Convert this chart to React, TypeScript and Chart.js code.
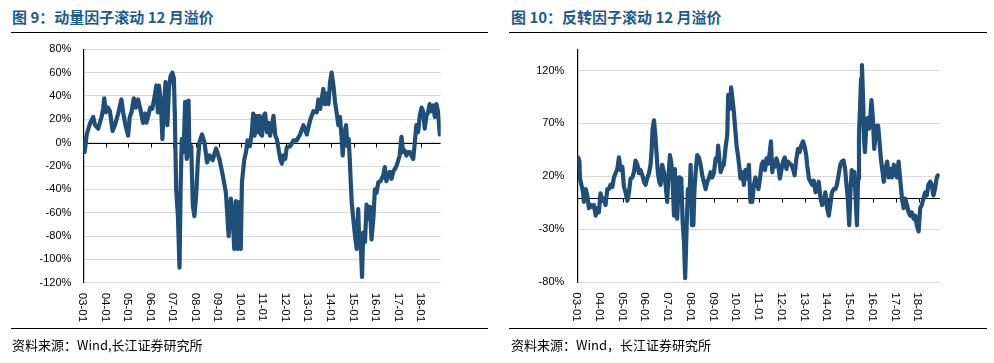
import React, { useEffect, useRef } from "react";
import { Chart, registerables } from "chart.js";

Chart.register(...registerables);

// ---------- Data: momentum factor (图 9) ----------
const momYears: number[] = [
  2003.00, 2003.06, 2003.15, 2003.29, 2003.44, 2003.52, 2003.66, 2003.81, 2003.88, 2003.93,
  2004.00, 2004.10, 2004.18, 2004.30, 2004.40, 2004.55, 2004.69, 2004.77, 2004.87, 2004.99,
  2005.06, 2005.14, 2005.24, 2005.33, 2005.43, 2005.53, 2005.65, 2005.74, 2005.80, 2005.87,
  2005.97, 2006.06, 2006.17, 2006.24, 2006.31, 2006.36, 2006.45, 2006.51, 2006.56, 2006.65,
  2006.73, 2006.80, 2006.87, 2006.95, 2007.02, 2007.06, 2007.12, 2007.20, 2007.27, 2007.32,
  2007.37, 2007.45, 2007.52, 2007.59, 2007.67, 2007.71, 2007.79, 2007.86, 2007.93, 2008.01,
  2008.08, 2008.15, 2008.27, 2008.38, 2008.49, 2008.60, 2008.74, 2008.89, 2009.04, 2009.19,
  2009.33, 2009.45, 2009.55, 2009.63, 2009.70, 2009.77, 2009.85, 2009.92, 2009.99, 2010.04,
  2010.14, 2010.22, 2010.29, 2010.39, 2010.48, 2010.54, 2010.60, 2010.66, 2010.73, 2010.81,
  2010.88, 2010.93, 2011.00, 2011.07, 2011.15, 2011.22, 2011.29, 2011.37, 2011.44, 2011.52,
  2011.59, 2011.66, 2011.74, 2011.81, 2011.88, 2011.96, 2012.03, 2012.18, 2012.33, 2012.47,
  2012.62, 2012.77, 2012.92, 2013.06, 2013.21, 2013.36, 2013.43, 2013.51, 2013.65, 2013.73,
  2013.80, 2013.88, 2013.95, 2014.02, 2014.10, 2014.17, 2014.24, 2014.32, 2014.39, 2014.47,
  2014.51, 2014.57, 2014.66, 2014.72, 2014.78, 2014.83, 2014.91, 2014.98, 2015.06, 2015.13,
  2015.20, 2015.25, 2015.31, 2015.37, 2015.42, 2015.50, 2015.57, 2015.65, 2015.72, 2015.79,
  2015.87, 2015.94, 2016.01, 2016.09, 2016.19, 2016.31, 2016.38, 2016.45, 2016.53, 2016.60,
  2016.68, 2016.75, 2016.90, 2017.04, 2017.12, 2017.19, 2017.27, 2017.34, 2017.42, 2017.49,
  2017.56, 2017.64, 2017.71, 2017.78, 2017.86, 2017.93, 2018.01, 2018.08, 2018.15, 2018.23,
  2018.30, 2018.37, 2018.45, 2018.52, 2018.60, 2018.67, 2018.74, 2018.82, 2018.86,
];
const momValues: number[] = [
  2, -8, 7, 16, 22, 15, 12, 22, 29, 38,
  26, 30, 27, 10, 15, 25, 37, 26, 15, 6,
  22, 26, 38, 30, 37, 29, 17, 25, 17, 22,
  30, 29, 40, 49, 26, 49, 32, 3, 26, 52,
  15, 46, 57, 60, 55, 26, -40, -63, -107, -37,
  3, -8, 35, -14, 36, -11, -3, -54, -63, -45,
  -17, 0, 7, 0, -17, -11, -15, -5, -14, -28,
  -43, -80, -48, -65, -91, -50, -91, -51, -91, -34,
  -15, -8, 2, -3, 9, 25, 6, 23, 9, 23,
  7, 6, 23, 25, 9, 17, 6, 15, 23, 6,
  3, -5, -14, -18, -11, -14, -4, -3, 2, 2,
  7, 15, 7, 19, 27, 26, 37, 29, 46, 33,
  42, 33, 52, 60, 49, 35, 26, 15, 22, 3,
  -11, 6, 15, -3, 3, -17, -51, -65, -80, -91,
  -57, -88, -85, -115, -77, -85, -53, -65, -55, -83,
  -65, -40, -43, -34, -33, -28, -21, -33, -28, -25,
  -31, -25, -20, -11, 5, -8, -7, -11, -8, -8,
  -11, -14, 0, 15, 9, 23, 30, 27, 12, 23,
  26, 33, 27, 32, 22, 33, 27, 7, 9,
];

// ---------- Data: reversal factor (图 10) ----------
const revYears: number[] = [
  2003.03, 2003.09, 2003.12, 2003.18, 2003.25, 2003.29, 2003.37, 2003.44, 2003.51, 2003.59,
  2003.66, 2003.73, 2003.81, 2003.88, 2003.95, 2004.02, 2004.10, 2004.17, 2004.24, 2004.32,
  2004.39, 2004.46, 2004.54, 2004.61, 2004.68, 2004.76, 2004.83, 2004.90, 2004.98, 2005.05,
  2005.12, 2005.20, 2005.27, 2005.34, 2005.42, 2005.49, 2005.56, 2005.64, 2005.71, 2005.78,
  2005.86, 2005.93, 2006.00, 2006.07, 2006.15, 2006.22, 2006.26, 2006.31, 2006.37, 2006.43,
  2006.48, 2006.54, 2006.60, 2006.66, 2006.73, 2006.81, 2006.88, 2006.95, 2007.00, 2007.07,
  2007.13, 2007.19, 2007.25, 2007.29, 2007.33, 2007.39, 2007.47, 2007.51, 2007.57, 2007.63,
  2007.69, 2007.74, 2007.80, 2007.86, 2007.92, 2007.98, 2008.04, 2008.10, 2008.15, 2008.21,
  2008.27, 2008.34, 2008.42, 2008.49, 2008.56, 2008.64, 2008.71, 2008.78, 2008.86, 2008.93,
  2009.00, 2009.08, 2009.15, 2009.19, 2009.24, 2009.30, 2009.37, 2009.44, 2009.52, 2009.59,
  2009.63, 2009.71, 2009.76, 2009.82, 2009.88, 2009.94, 2010.00, 2010.06, 2010.12, 2010.17,
  2010.25, 2010.32, 2010.39, 2010.47, 2010.54, 2010.61, 2010.69, 2010.76, 2010.83, 2010.91,
  2010.96, 2011.03, 2011.10, 2011.17, 2011.25, 2011.32, 2011.39, 2011.46, 2011.51, 2011.57,
  2011.61, 2011.68, 2011.75, 2011.83, 2011.90, 2011.97, 2012.04, 2012.12, 2012.19, 2012.26,
  2012.34, 2012.41, 2012.48, 2012.55, 2012.63, 2012.70, 2012.77, 2012.84, 2012.92, 2012.99,
  2013.06, 2013.10, 2013.18, 2013.25, 2013.32, 2013.39, 2013.47, 2013.54, 2013.61, 2013.69,
  2013.76, 2013.83, 2013.90, 2013.98, 2014.05, 2014.12, 2014.19, 2014.27, 2014.34, 2014.41,
  2014.48, 2014.56, 2014.63, 2014.70, 2014.77, 2014.83, 2014.89, 2014.95, 2015.01, 2015.06,
  2015.12, 2015.18, 2015.24, 2015.29, 2015.34, 2015.38, 2015.43, 2015.47, 2015.51, 2015.56,
  2015.60, 2015.64, 2015.70, 2015.76, 2015.82, 2015.88, 2015.93, 2015.99, 2016.05, 2016.11,
  2016.17, 2016.22, 2016.28, 2016.34, 2016.40, 2016.47, 2016.54, 2016.62, 2016.69, 2016.76,
  2016.83, 2016.91, 2016.98, 2017.05, 2017.12, 2017.20, 2017.27, 2017.34, 2017.41, 2017.49,
  2017.56, 2017.63, 2017.70, 2017.78, 2017.85, 2017.92, 2018.00, 2018.07, 2018.14, 2018.21,
  2018.29, 2018.36, 2018.43, 2018.51, 2018.58, 2018.65, 2018.72, 2018.79, 2018.84,
];
const revValues: number[] = [
  38, 35, 18, 12, 5, -4, 8, 2, -10, -7,
  -9, -7, -17, -10, -14, 4, -3, -1, -7, 8,
  8, 12, 10, 19, 23, 27, 38, 26, 29, 10,
  5, -3, 5, 18, 19, 24, 35, 31, 23, 26,
  21, 15, 12, 18, 23, 31, 42, 65, 73, 59,
  43, 24, 15, 12, 31, 24, 12, -4, 18, 40,
  33, 15, -17, 27, -4, -20, 19, -4, 18, -23,
  -42, -76, -32, 8, -7, 31, -26, -26, 8, 27,
  40, 38, 31, 21, 15, 8, 15, 18, 24, 19,
  23, 37, 35, 49, 37, 24, 29, 31, 48, 59,
  97, 84, 104, 93, 81, 65, 49, 40, 29, 18,
  24, 12, 26, 18, 31, -4, -4, 12, 19, 12,
  8, 18, 31, 34, 26, 37, 32, 43, 53, 24,
  34, 29, 37, 31, 18, 26, 34, 38, 27, 34,
  32, 31, 27, 21, 37, 46, 43, 49, 53, 48,
  40, 31, 18, 15, 12, 16, 5, 8, 15, -1,
  -7, -4, 5, -10, -17, -7, 5, 8, 8, 12,
  21, 31, 34, 35, 27, 12, -1, -26, 8, 26,
  12, 24, -4, -26, 18, 59, 87, 112, 125, 93,
  56, 43, 68, 75, 65, 78, 92, 75, 46, 59,
  68, 68, 53, 37, 27, 15, 27, 34, 19, 27,
  19, 31, 23, 19, 34, 15, -1, -10, -1, -7,
  -14, -17, -14, -20, -17, -26, -32, -10, -7, -1,
  5, 2, 12, 15, 12, 2, 8, 18, 21,
];

// ---------- Axis definitions ----------
const yearTicks: number[] = [2003, 2004, 2005, 2006, 2007, 2008, 2009, 2010, 2011, 2012, 2013, 2014, 2015, 2016, 2017, 2018];
const yearLabels: string[] = ["03-01", "04-01", "05-01", "06-01", "07-01", "08-01", "09-01", "10-01", "11-01", "12-01", "13-01", "14-01", "15-01", "16-01", "17-01", "18-01"];
const momYTicks: number[] = [-120, -100, -80, -60, -40, -20, 0, 20, 40, 60, 80];
const revYTicks: number[] = [-80, -30, 20, 70, 120];

const LINE_COLOR = "#1f4e79";
const TICK_FONT = "'Liberation Sans', Arial, sans-serif";

interface Cfg {
  years: number[];
  values: number[];
  xMax: number;
  yMin: number;
  yMax: number;
  yTicks: number[];
  labelGap: number;
  padRight: number;
  padBottom: number;
}

function makeAxisPlugin() {
  return {
    id: "customAxis",
    beforeDatasetsDraw(chart: any) {
      const { ctx, chartArea, scales } = chart;
      const x = scales.x;
      const y = scales.y;
      const y0 = Math.round(y.getPixelForValue(0)) + 0.5;
      ctx.save();
      ctx.strokeStyle = "#000";
      ctx.lineWidth = 1;
      ctx.beginPath();
      ctx.moveTo(chartArea.left, y0);
      ctx.lineTo(chartArea.right, y0);
      yearTicks.forEach((yr) => {
        const px = Math.round(x.getPixelForValue(yr)) + 0.5;
        ctx.moveTo(px, y0);
        ctx.lineTo(px, y0 + 4);
      });
      ctx.stroke();
      ctx.restore();
    },
    afterDraw(chart: any) {
      const { ctx, chartArea, scales } = chart;
      const x = scales.x;
      ctx.save();
      ctx.fillStyle = "#000";
      ctx.font = `11.5px ${TICK_FONT}`;
      ctx.textAlign = "left";
      ctx.textBaseline = "middle";
      yearTicks.forEach((yr, i) => {
        const px = x.getPixelForValue(yr) - 1;
        ctx.save();
        ctx.translate(px, chartArea.bottom + 10);
        ctx.rotate(Math.PI / 2);
        ctx.fillText(yearLabels[i], 0, 0);
        ctx.restore();
      });
      ctx.restore();
    },
  };
}

function LineChart({ cfg, left, width }: { cfg: Cfg; left: number; width: number }) {
  const ref = useRef<HTMLCanvasElement | null>(null);
  useEffect(() => {
    if (!ref.current) return;
    const data = cfg.years.map((yr, i) => ({ x: yr, y: cfg.values[i] }));
    const chart = new Chart(ref.current, {
      type: "line",
      data: {
        datasets: [
          {
            data,
            borderColor: LINE_COLOR,
            borderWidth: 4.2,
            pointRadius: 0,
            tension: 0,
            fill: false,
            borderJoinStyle: "round",
            borderCapStyle: "round",
          },
        ],
      },
      options: {
        responsive: false,
        animation: false,
        events: [],
        layout: { padding: { left: 0, top: 9.3, right: cfg.padRight, bottom: cfg.padBottom } },
        plugins: { legend: { display: false }, tooltip: { enabled: false }, title: { display: false } },
        scales: {
          x: {
            type: "linear",
            display: false,
            min: 2003,
            max: cfg.xMax,
          },
          y: {
            type: "linear",
            min: cfg.yMin,
            max: cfg.yMax,
            afterBuildTicks: (s: any) => {
              s.ticks = cfg.yTicks.map((v) => ({ value: v }));
            },
            afterFit: (s: any) => {
              s.width = 83.3;
            },
            grid: {
              color: "#d9d9d9",
              lineWidth: 1,
              drawTicks: true,
              tickLength: cfg.labelGap,
              tickColor: "rgba(0,0,0,0)",
            },
            border: { display: true, color: "#000", width: 1.2 },
            ticks: {
              padding: 0,
              color: "#000",
              font: { family: TICK_FONT, size: 11 },
              callback: (v: any) => `${v}%`,
            },
          },
        },
      },
      plugins: [makeAxisPlugin()],
    } as any);
    return () => chart.destroy();
  }, [cfg]);
  return (
    <canvas
      ref={ref}
      width={width}
      height={290}
      style={{ position: "absolute", left, top: 40, width, height: 290 }}
    />
  );
}

const momCfg: Cfg = {
  years: momYears,
  values: momValues,
  xMax: 2018.86,
  yMin: -120,
  yMax: 80,
  yTicks: momYTicks,
  labelGap: 12,
  padRight: 49.3,
  padBottom: 47.3,
};
const revCfg: Cfg = {
  years: revYears,
  values: revValues,
  xMax: 2018.94,
  yMin: -80,
  yMax: 140,
  yTicks: revYTicks,
  labelGap: 13,
  padRight: 48,
  padBottom: 47.7,
};

const titleStyle: React.CSSProperties = {
  position: "absolute",
  top: 8,
  fontSize: 15,
  lineHeight: "18px",
  fontWeight: 700,
  color: "#1c5a8e",
  fontFamily: "'Noto Sans CJK SC', sans-serif",
  whiteSpace: "nowrap",
};
const sourceStyle: React.CSSProperties = {
  position: "absolute",
  top: 336,
  fontSize: 13,
  lineHeight: "17px",
  color: "#000",
  fontFamily: "'Noto Sans CJK SC', sans-serif",
  whiteSpace: "nowrap",
};
const ruleStyle: React.CSSProperties = {
  position: "absolute",
  height: 1.5,
  background: "#000",
};

export default function App() {
  return (
    <div
      style={{
        position: "absolute",
        left: 0,
        top: 0,
        width: 994,
        height: 363,
        background: "#fff",
        overflow: "hidden",
      }}
    >
      <div style={{ ...titleStyle, left: 12 }}>图 9：动量因子滚动 12 月溢价</div>
      <div style={{ ...ruleStyle, left: 11, width: 477, top: 31.5 }} />
      <LineChart cfg={momCfg} left={0} width={490} />
      <div style={{ ...ruleStyle, left: 11, width: 477, top: 327.5 }} />
      <div style={{ ...sourceStyle, left: 12 }}>资料来源：Wind,长江证券研究所</div>

      <div style={{ ...titleStyle, left: 511 }}>图 10：反转因子滚动 12 月溢价</div>
      <div style={{ ...ruleStyle, left: 509, width: 478, top: 31.5 }} />
      <LineChart cfg={revCfg} left={494} width={494} />
      <div style={{ ...ruleStyle, left: 509, width: 478, top: 327.5 }} />
      <div style={{ ...sourceStyle, left: 511 }}>资料来源：Wind，长江证券研究所</div>
    </div>
  );
}
